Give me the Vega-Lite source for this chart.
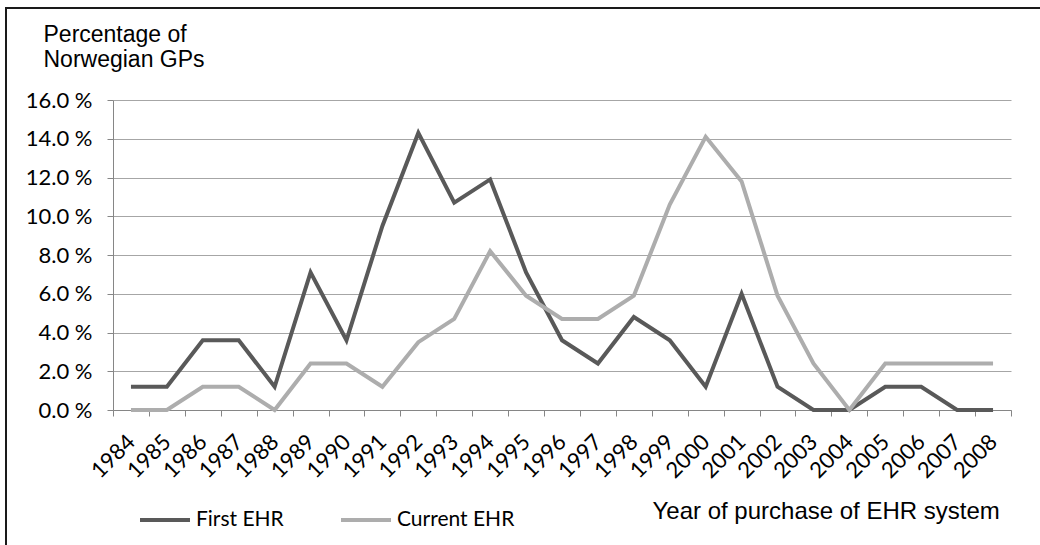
{
  "$schema": "https://vega.github.io/schema/vega-lite/v6.json",
  "width": 1040,
  "height": 545,
  "autosize": {"type": "none"},
  "padding": {"left": 6, "top": 8, "right": 0, "bottom": 0},
  "background": "white",
  "config": {
    "view": {"stroke": "#1a1a1a", "strokeWidth": 2},
    "axis": {"labelColor": "black", "titleColor": "black", "titleFontWeight": "normal"}
  },
  "data": {
    "values": [
      {"year": 1984, "series": "First EHR", "value": 1.2},
      {"year": 1985, "series": "First EHR", "value": 1.2},
      {"year": 1986, "series": "First EHR", "value": 3.6},
      {"year": 1987, "series": "First EHR", "value": 3.6},
      {"year": 1988, "series": "First EHR", "value": 1.2},
      {"year": 1989, "series": "First EHR", "value": 7.1},
      {"year": 1990, "series": "First EHR", "value": 3.6},
      {"year": 1991, "series": "First EHR", "value": 9.5},
      {"year": 1992, "series": "First EHR", "value": 14.3},
      {"year": 1993, "series": "First EHR", "value": 10.7},
      {"year": 1994, "series": "First EHR", "value": 11.9},
      {"year": 1995, "series": "First EHR", "value": 7.1},
      {"year": 1996, "series": "First EHR", "value": 3.6},
      {"year": 1997, "series": "First EHR", "value": 2.4},
      {"year": 1998, "series": "First EHR", "value": 4.8},
      {"year": 1999, "series": "First EHR", "value": 3.6},
      {"year": 2000, "series": "First EHR", "value": 1.2},
      {"year": 2001, "series": "First EHR", "value": 6.0},
      {"year": 2002, "series": "First EHR", "value": 1.2},
      {"year": 2003, "series": "First EHR", "value": 0},
      {"year": 2004, "series": "First EHR", "value": 0},
      {"year": 2005, "series": "First EHR", "value": 1.2},
      {"year": 2006, "series": "First EHR", "value": 1.2},
      {"year": 2007, "series": "First EHR", "value": 0},
      {"year": 2008, "series": "First EHR", "value": 0},
      {"year": 1984, "series": "Current EHR", "value": 0},
      {"year": 1985, "series": "Current EHR", "value": 0},
      {"year": 1986, "series": "Current EHR", "value": 1.2},
      {"year": 1987, "series": "Current EHR", "value": 1.2},
      {"year": 1988, "series": "Current EHR", "value": 0},
      {"year": 1989, "series": "Current EHR", "value": 2.4},
      {"year": 1990, "series": "Current EHR", "value": 2.4},
      {"year": 1991, "series": "Current EHR", "value": 1.2},
      {"year": 1992, "series": "Current EHR", "value": 3.5},
      {"year": 1993, "series": "Current EHR", "value": 4.7},
      {"year": 1994, "series": "Current EHR", "value": 8.2},
      {"year": 1995, "series": "Current EHR", "value": 5.9},
      {"year": 1996, "series": "Current EHR", "value": 4.7},
      {"year": 1997, "series": "Current EHR", "value": 4.7},
      {"year": 1998, "series": "Current EHR", "value": 5.9},
      {"year": 1999, "series": "Current EHR", "value": 10.6},
      {"year": 2000, "series": "Current EHR", "value": 14.1},
      {"year": 2001, "series": "Current EHR", "value": 11.8},
      {"year": 2002, "series": "Current EHR", "value": 5.9},
      {"year": 2003, "series": "Current EHR", "value": 2.4},
      {"year": 2004, "series": "Current EHR", "value": 0},
      {"year": 2005, "series": "Current EHR", "value": 2.4},
      {"year": 2006, "series": "Current EHR", "value": 2.4},
      {"year": 2007, "series": "Current EHR", "value": 2.4},
      {"year": 2008, "series": "Current EHR", "value": 2.4}
    ]
  },
  "mark": {"type": "line", "strokeWidth": 4},
  "encoding": {
    "x": {
      "field": "year",
      "type": "ordinal",
      "bandPosition": 0.5,
      "scale": {"type": "band", "range": [107, 1005], "paddingInner": 0, "paddingOuter": 0},
      "axis": {
        "orient": "bottom",
        "offset": -143,
        "tickBand": "extent",
        "labelAngle": -45,
        "labelAlign": "right",
        "labelBaseline": "middle",
        "labelPadding": 22,
        "labelFont": "Lato",
        "labelFontSize": 22,
        "labelOverlap": false,
        "tickSize": 6,
        "tickColor": "#868686",
        "domainColor": "#868686",
        "domainWidth": 1,
        "grid": false,
        "title": "Year of purchase of EHR system",
        "titleX": 646,
        "titleY": 108,
        "titleAlign": "left",
        "titleBaseline": "alphabetic",
        "titleFont": "Liberation Sans",
        "titleFontSize": 24
      }
    },
    "y": {
      "field": "value",
      "type": "quantitative",
      "scale": {"domain": [0, 16], "range": [402, 92]},
      "axis": {
        "orient": "left",
        "offset": -107,
        "values": [0, 2, 4, 6, 8, 10, 12, 14, 16],
        "labelExpr": "format(datum.value, '.1f') + ' %'",
        "labelFont": "Lato",
        "labelFontSize": 22,
        "labelPadding": 15,
        "tickSize": 6,
        "tickColor": "#868686",
        "domainColor": "#868686",
        "grid": true,
        "gridColor": "#A6A6A6",
        "gridWidth": 1,
        "title": ["Percentage of", "Norwegian GPs"],
        "titleAngle": 0,
        "titleAlign": "left",
        "titleBaseline": "alphabetic",
        "titleX": -70,
        "titleY": 33,
        "titleFont": "Liberation Sans",
        "titleFontSize": 23,
        "titleLineHeight": 25
      }
    },
    "color": {
      "field": "series",
      "type": "nominal",
      "sort": ["First EHR", "Current EHR"],
      "scale": {"domain": ["First EHR", "Current EHR"], "range": ["#595959", "#ADADAD"]},
      "legend": {
        "orient": "none",
        "legendX": 132,
        "legendY": 485,
        "direction": "horizontal",
        "title": null,
        "symbolType": "stroke",
        "symbolSize": 2500,
        "symbolStrokeWidth": 4,
        "labelFont": "Lato",
        "labelFontSize": 21,
        "labelColor": "black",
        "labelOffset": 4,
        "columnPadding": 49,
        "padding": 0
      }
    }
  }
}
